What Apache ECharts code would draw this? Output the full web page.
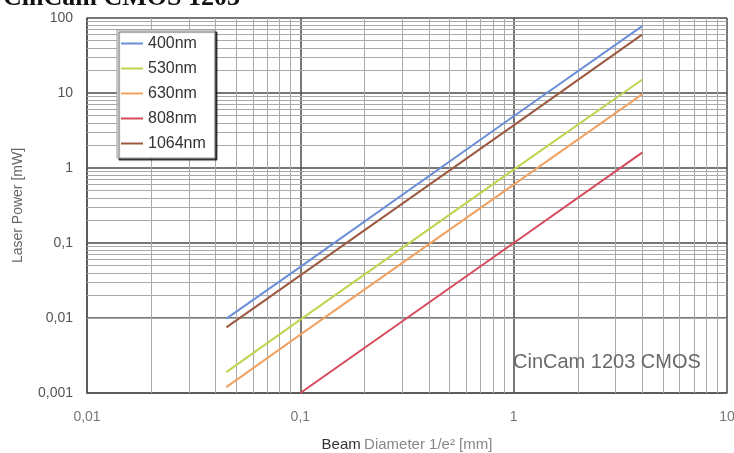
<!DOCTYPE html>
<html>
<head>
<meta charset="utf-8">
<script src="https://cdn.jsdelivr.net/npm/echarts@6/dist/echarts.min.js"></script>
<style>
html,body{margin:0;padding:0;background:#fff;}
#c{width:734px;height:453px;}
</style>
</head>
<body>
<div id="c"></div>
<script>
// ---- data ----
const seriesNames = ['400nm', '530nm', '630nm', '808nm', '1064nm'];
const diameters = [0.045, 0.1, 1, 4];            // beam diameter 1/e² [mm]
const power400  = [0.0098, 0.048, 4.9, 78];       // laser power [mW]
const power530  = [0.0019, 0.0095, 0.95, 15];
const power630  = [0.0012, 0.006, 0.6, 9.6];
const power808  = [null, 0.001, 0.1, 1.6];
const power1064 = [0.0075, 0.037, 3.7, 60];
const xTickValues = [0.01, 0.1, 1, 10];
const xTickLabels = ['0,01', '0,1', '1', '10'];
const yTickValues = [0.001, 0.01, 0.1, 1, 10, 100];
const yTickLabels = ['0,001', '0,01', '0,1', '1', '10', '100'];
const minorMultipliers = [2, 3, 4, 5, 6, 7, 8, 9];

const colors = ['#6b8fd6', '#bcd650', '#f0a262', '#d64a5a', '#9c5a40'];
const powers = [power400, power530, power630, power808, power1064];

function pairs(ys) {
  const out = [];
  diameters.forEach((d, i) => { if (ys[i] != null) out.push([d, ys[i]]); });
  return out;
}
function labelFor(values, labels, v) {
  const lv = Math.log10(v);
  for (let i = 0; i < values.length; i++) {
    if (Math.abs(Math.log10(values[i]) - lv) < 1e-6) return labels[i];
  }
  return '';
}
const minorX = [], minorY = [];
xTickValues.slice(0, -1).forEach(b => minorMultipliers.forEach(m => minorX.push({ xAxis: +(b * m).toPrecision(3) })));
yTickValues.slice(0, -1).forEach(b => minorMultipliers.forEach(m => minorY.push({ yAxis: +(b * m).toPrecision(3) })));

const FONT = '"Liberation Sans", Arial, sans-serif';

const chart = echarts.init(document.getElementById('c'), null, { renderer: 'canvas' });

const series = seriesNames.map((n, i) => ({
  name: n,
  type: 'line',
  data: pairs(powers[i]),
  showSymbol: false,
  symbol: 'none',
  lineStyle: { color: colors[i], width: 2 },
  itemStyle: { color: colors[i] },
  z: 5,
  silent: true,
  animation: false
}));

series.unshift({
  name: '_grid',
  type: 'line',
  data: [],
  silent: true,
  animation: false,
  z: 1,
  markLine: {
    silent: true,
    symbol: ['none', 'none'],
    label: { show: false },
    lineStyle: { color: '#a9a9a9', width: 1, type: 'solid' },
    data: minorX.concat(minorY),
    animation: false
  }
});

chart.setOption({
  animation: false,
  backgroundColor: '#ffffff',
  color: colors,
  grid: { left: 87, right: 7, top: 18, bottom: 60, containLabel: false, outerBoundsMode: 'none' },
  legend: {
    data: seriesNames,
    orient: 'vertical',
    left: 117,
    top: 30,
    icon: 'rect',
    itemWidth: 22,
    itemHeight: 2,
    itemGap: 8,
    padding: [5, 9, 6, 4],
    backgroundColor: '#ffffff',
    borderColor: '#999',
    borderWidth: 1,
    shadowColor: 'rgba(0,0,0,0.7)',
    shadowOffsetX: 2,
    shadowOffsetY: 2,
    shadowBlur: 1,
    textStyle: { fontFamily: FONT, fontSize: 16, color: '#333', lineHeight: 17 },
    z: 10
  },
  xAxis: {
    type: 'log',
    logBase: 10,
    min: 0.01,
    max: 10,
    name: '{a|Beam} {b|Diameter 1/e² [mm]}',
    nameLocation: 'middle',
    nameGap: 44,
    nameTextStyle: {
      rich: {
        a: { fontFamily: FONT, fontSize: 15, color: '#333' },
        b: { fontFamily: FONT, fontSize: 15, color: '#888' }
      }
    },
    axisLine: { show: true, lineStyle: { color: '#555', width: 1.5 } },
    axisTick: { show: false },
    axisLabel: {
      margin: 17,
      fontFamily: FONT,
      fontSize: 14,
      color: '#777',
      formatter: v => labelFor(xTickValues, xTickLabels, v)
    },
    splitLine: { show: true, lineStyle: { color: '#4a4a4a', width: 1.5 } }
  },
  yAxis: {
    type: 'log',
    logBase: 10,
    min: 0.001,
    max: 100,
    name: 'Laser Power [mW]',
    nameLocation: 'middle',
    nameGap: 62,
    nameTextStyle: { fontFamily: FONT, fontSize: 14, color: '#666' },
    axisLine: { show: true, lineStyle: { color: '#555', width: 1.5 } },
    axisTick: { show: false },
    axisLabel: {
      margin: 14,
      fontFamily: FONT,
      fontSize: 14,
      color: '#555',
      formatter: v => labelFor(yTickValues, yTickLabels, v)
    },
    splitLine: { show: true, lineStyle: { color: '#4a4a4a', width: 1.5 } }
  },
  graphic: [
    {
      type: 'text',
      left: 3,
      top: -15,
      style: { text: 'CinCam CMOS 1203', font: 'bold 26px "Liberation Serif", serif', fill: '#111' },
      z: 20
    },
    {
      type: 'text',
      left: 513,
      top: 352,
      style: { text: 'CinCam 1203 CMOS', font: '20px ' + FONT, fill: '#6a6a6a' },
      z: 20
    }
  ],
  series: series
});
</script>
</body>
</html>
